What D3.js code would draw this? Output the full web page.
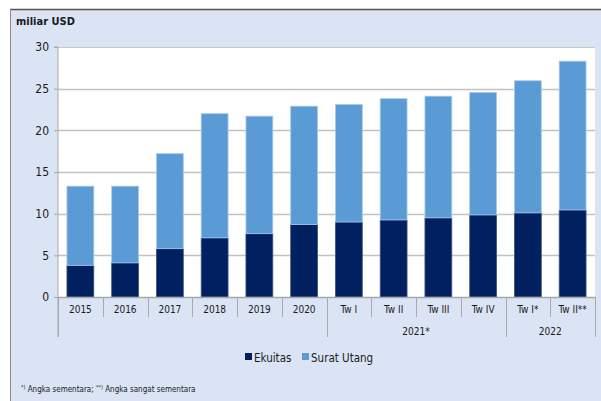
<!DOCTYPE html>
<html>
<head>
<meta charset="utf-8">
<script src="https://cdn.jsdelivr.net/npm/d3@7"></script>
<style>
  html, body { margin: 0; padding: 0; background: #ffffff; }
  svg { display: block; }
  text { font-family: "DejaVu Sans Condensed", "DejaVu Sans", sans-serif; fill: #1a1a1a; }
</style>
</head>
<body>
<svg id="chart" width="601" height="401"></svg>
<script>
// Posisi investasi: ekuitas dan surat utang (miliar USD)
const categories = ["2015", "2016", "2017", "2018", "2019", "2020", "Tw I", "Tw II", "Tw III", "Tw IV", "Tw I*", "Tw II**"];
const ekuitas    = [3.8, 4.1, 5.8, 7.1, 7.6, 8.7, 9.0, 9.25, 9.5, 9.85, 10.1, 10.45];
const suratUtang = [9.5, 9.2, 11.4, 14.9, 14.1, 14.2, 14.1, 14.55, 14.6, 14.7, 15.85, 17.85];
const yTicks = [0, 5, 10, 15, 20, 25, 30];
const groups = [
  { label: "2021*", from: "Tw I", to: "Tw IV" },
  { label: "2022", from: "Tw I*", to: "Tw II**" }
];
const seriesNames = ["Ekuitas", "Surat Utang"];
const colors = ["#00205f", "#5b9bd5"];

const svg = d3.select("#chart");
const W = 601, H = 401;
const FONT = "DejaVu Sans Condensed, DejaVu Sans, sans-serif";

// panel background with top and left rule
svg.append("rect").attr("x", 10).attr("y", 9).attr("width", W - 10).attr("height", H - 9).attr("fill", "#dbe4f4");
svg.append("line").attr("x1", 10).attr("x2", W).attr("y1", 9.5).attr("y2", 9.5).attr("stroke", "#555").attr("stroke-width", 1.5);
svg.append("line").attr("x1", 10.5).attr("x2", 10.5).attr("y1", 9).attr("y2", H).attr("stroke", "#8a8a8a").attr("stroke-width", 1);

const plot = { left: 58, right: 595, top: 47, bottom: 297 };

svg.append("rect")
  .attr("x", plot.left).attr("y", plot.top)
  .attr("width", plot.right - plot.left).attr("height", plot.bottom - plot.top)
  .attr("fill", "#ffffff");
svg.append("line").attr("x1", plot.left).attr("x2", plot.right).attr("y1", plot.top + 0.5).attr("y2", plot.top + 0.5)
  .attr("stroke", "#c8c8c8");

const x = d3.scaleBand().domain(categories).range([plot.left, plot.right]).paddingInner(0.4).paddingOuter(0.2);
const y = d3.scaleLinear().domain([0, 30]).range([plot.bottom, plot.top]);

// gridlines
svg.append("g").selectAll("line").data(yTicks.filter(d => d > 0 && d < 30)).join("line")
  .attr("x1", plot.left).attr("x2", plot.right)
  .attr("y1", d => Math.round(y(d)) + 0.5).attr("y2", d => Math.round(y(d)) + 0.5)
  .attr("stroke", "#c2c2c2").attr("stroke-width", 1.5);

// stacked bars
const rows = categories.map((c, i) => ({ cat: c, Ekuitas: ekuitas[i], "Surat Utang": suratUtang[i] }));
const stack = d3.stack().keys(seriesNames)(rows);
const strokes = ["#3a5585", "#a9c9ec"];
svg.append("g").selectAll("g").data(stack).join("g")
  .attr("fill", (d, i) => colors[i])
  .attr("stroke", (d, i) => strokes[i])
  .attr("stroke-width", 0.8)
  .selectAll("rect").data(d => d).join("rect")
  .attr("x", d => x(d.data.cat))
  .attr("width", x.bandwidth())
  .attr("y", d => y(d[1]))
  .attr("height", d => y(d[0]) - y(d[1]));

// y axis
const yAxis = d3.axisLeft(y).tickValues(yTicks).tickSize(4).tickPadding(5);
const gy = svg.append("g").attr("transform", `translate(${plot.left},0)`).call(yAxis);
gy.selectAll(".tick line").attr("stroke", "#a8a8a8");
gy.selectAll(".tick text").attr("font-size", 12).attr("font-family", FONT).attr("fill", "#1a1a1a");
gy.select(".domain").attr("d", `M-4,${plot.top}H0V${plot.bottom + 40}`).attr("stroke", "#a8a8a8");

// x axis baseline and category labels
const gx = svg.append("g").attr("transform", `translate(0,${plot.bottom})`)
  .call(d3.axisBottom(x).tickSize(0).tickPadding(9));
gx.select(".domain").attr("d", `M${plot.left},0.5H${plot.right}`).attr("stroke", "#a8a8a8").attr("stroke-width", 1.5);
gx.selectAll(".tick text").attr("font-size", 10).attr("font-family", FONT).attr("fill", "#1a1a1a");

// separators between categories; longer ones at group boundaries
const step = x.step();
const boundaryIdx = new Set([0, categories.indexOf("Tw I"), categories.indexOf("Tw I*"), categories.length]);
const seps = d3.range(0, categories.length + 1).map(i => ({
  x: Math.round(plot.left + i * step) + 0.5,
  long: boundaryIdx.has(i)
}));
svg.append("g").selectAll("line").data(seps).join("line")
  .attr("x1", d => d.x).attr("x2", d => d.x)
  .attr("y1", plot.bottom).attr("y2", d => d.long ? plot.bottom + 40 : plot.bottom + 20)
  .attr("stroke", "#a8a8a8").attr("stroke-width", 1);

// group labels
svg.append("g").selectAll("text").data(groups).join("text")
  .attr("x", d => (x(d.from) - x.step() * x.paddingInner() / 2 + x(d.to) + x.bandwidth() + x.step() * x.paddingInner() / 2) / 2)
  .attr("y", plot.bottom + 38)
  .attr("text-anchor", "middle")
  .attr("font-size", 10)
  .text(d => d.label);

// unit label
svg.append("text").attr("x", 16).attr("y", 25).attr("font-size", 11).attr("font-weight", "bold")
  .attr("font-family", FONT).text("miliar USD");

// legend
const legend = svg.append("g");
const legendItems = [{ name: seriesNames[0], x: 245 }, { name: seriesNames[1], x: 302 }];
legendItems.forEach((d, i) => {
  legend.append("rect").attr("x", d.x).attr("y", 353).attr("width", 7).attr("height", 7).attr("fill", colors[i]);
  legend.append("text").attr("x", d.x + 9).attr("y", 362).attr("font-size", 11.5)
    .attr("font-family", FONT).text(d.name);
});

// footnote
const note = svg.append("text").attr("x", 21).attr("y", 392).attr("font-size", 8)
  .attr("font-family", FONT);
note.append("tspan").attr("font-size", 5.5).attr("dy", -3).text("*)");
note.append("tspan").attr("dy", 3).text(" Angka sementara; ");
note.append("tspan").attr("font-size", 5.5).attr("dy", -3).text("**)");
note.append("tspan").attr("dy", 3).text(" Angka sangat sementara");
</script>
</body>
</html>
